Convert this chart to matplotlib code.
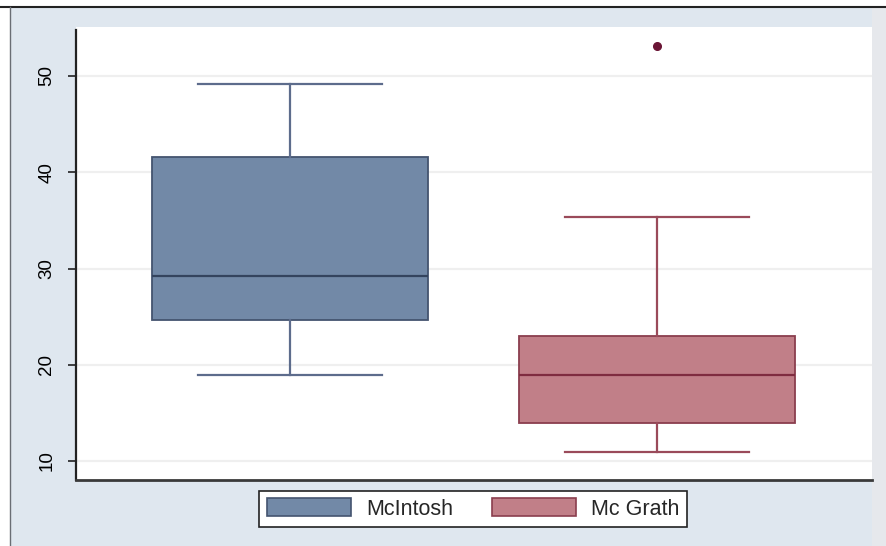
import matplotlib
matplotlib.use('Agg')
import matplotlib.pyplot as plt
from matplotlib.patches import Rectangle, Patch
from matplotlib.lines import Line2D

plt.rcParams['font.family'] = ['Liberation Sans', 'DejaVu Sans']

# box plot summary values
groups = ['McIntosh', 'Mc Grath']
q1 = [24.6, 13.9]
medians = [29.2, 18.9]
q3 = [41.6, 23.0]
whisk_lo = [18.9, 10.9]
whisk_hi = [49.2, 35.3]
outliers = [[], [53.1]]
yticks = [10, 20, 30, 40, 50]

fills = ['#7289a7', '#c17f88']
edges = ['#44546f', '#8a3e4e']
med_cols = ['#34445e', '#7f2c40']
whisk_cols = ['#5d6c8c', '#9a4a5a']
flier_col = '#6a1535'

W, H = 886, 546
fig = plt.figure(figsize=(W / 100, H / 100), dpi=100)
fig.patch.set_facecolor('white')

## outer graph region (light blue frame with grey strip at right)
fig.add_artist(Rectangle((10 / W, 0), (872 - 10) / W, (H - 7) / H,
                         transform=fig.transFigure, fc='#dfe7ef', ec='none', zorder=-10))
fig.add_artist(Rectangle((872 / W, 0), (W - 872) / W, (H - 7) / H,
                         transform=fig.transFigure, fc='#e6e8ec', ec='none', zorder=-10))
fig.add_artist(Line2D([0, 1], [1 - 7 / H, 1 - 7 / H], transform=fig.transFigure,
                      color='#222222', lw=1.5, zorder=-5))
fig.add_artist(Line2D([10 / W, 10 / W], [0, 1 - 7 / H], transform=fig.transFigure,
                      color='#6a6e74', lw=1, zorder=-5))

## plot region
ax = fig.add_axes([76 / W, (H - 480) / H, (872 - 76) / W, (480 - 27) / H])
ax.set_facecolor('white')

stats = []
for i, g in enumerate(groups):
    stats.append(dict(label=g, q1=q1[i], med=medians[i], q3=q3[i],
                      whislo=whisk_lo[i], whishi=whisk_hi[i], fliers=outliers[i]))

for i, s in enumerate(stats):
    ax.bxp([s], positions=[i + 1], widths=0.75, capwidths=0.5, patch_artist=True,
           boxprops=dict(facecolor=fills[i], edgecolor=edges[i], lw=1.3),
           medianprops=dict(color=med_cols[i], lw=1.6),
           whiskerprops=dict(color=whisk_cols[i], lw=1.6),
           capprops=dict(color=whisk_cols[i], lw=1.6),
           flierprops=dict(marker='o', markersize=5.5, markerfacecolor=flier_col,
                           markeredgecolor=flier_col),
           zorder=3)

ax.set_xlim(0.417, 2.586)
ax.set_ylim(8.03, 55.09)
ax.set_xticks([])
ax.set_yticks(yticks)
ax.set_yticklabels([str(t) for t in yticks], rotation=90, va='center', fontsize=13.5)
ax.tick_params(axis='y', length=6, width=1.2, pad=9, color='#222222')
ax.grid(axis='y', color='#efefef', lw=1.6, zorder=0)
ax.set_axisbelow(True)

for side in ['top', 'right']:
    ax.spines[side].set_visible(False)
ax.spines['left'].set_color('#222222')
ax.spines['left'].set_linewidth(1.6)
ax.spines['left'].set_bounds(8.03, 54.8)
ax.spines['bottom'].set_color('#3a3a3a')
ax.spines['bottom'].set_linewidth(2)

## legend
handles = [Patch(facecolor=fills[i], edgecolor=edges[i], lw=1.2) for i in range(2)]
leg = fig.legend(handles, groups, loc='center', bbox_to_anchor=(473 / W, 1 - 509 / H),
                 ncol=2, fontsize=15.5, fancybox=False, framealpha=1,
                 edgecolor='#222222', handlelength=3.9, handleheight=0.85,
                 handletextpad=0.7, columnspacing=1.8, borderpad=0.35)
leg.get_frame().set_linewidth(1.2)
for t in leg.get_texts():
    t.set_color('#262626')

fig.savefig('out.png', dpi=100)
